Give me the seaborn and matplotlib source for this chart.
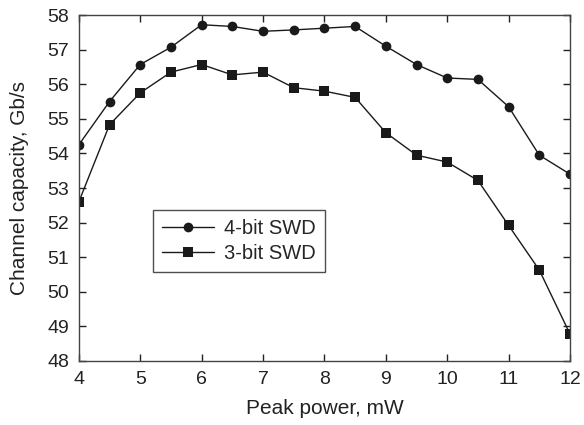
import numpy as np
import pandas as pd
import seaborn as sns
import matplotlib.pyplot as plt

# Données
peak_power = [4, 4.5, 5, 5.5, 6, 6.5, 7, 7.5, 8, 8.5, 9, 9.5, 10, 10.5, 11, 11.5, 12]
cap_4bit = [54.25, 55.5, 56.57, 57.07, 57.72, 57.67, 57.53, 57.57, 57.62, 57.67,
            57.1, 56.57, 56.18, 56.14, 55.35, 53.95, 53.4]
cap_3bit = [52.6, 54.83, 55.75, 56.35, 56.57, 56.27, 56.35, 55.9, 55.8, 55.62,
            54.6, 53.95, 53.75, 53.22, 51.92, 50.63, 48.78]
x_ticks = [4, 5, 6, 7, 8, 9, 10, 11, 12]
y_ticks = [48, 49, 50, 51, 52, 53, 54, 55, 56, 57, 58]

df = pd.DataFrame({
    "power": peak_power * 2,
    "capacity": cap_4bit + cap_3bit,
    "serie": ["4-bit SWD"] * len(peak_power) + ["3-bit SWD"] * len(peak_power),
})

sns.set_style("ticks")
plt.rcParams['font.family'] = ['Liberation Sans', 'DejaVu Sans']

fig = plt.figure(figsize=(5.84, 4.25), dpi=100)
ax = fig.add_axes([0.135, 0.1506, 0.841, 0.814])

sns.lineplot(data=df, x="power", y="capacity", hue="serie", style="serie",
             markers={"4-bit SWD": "o", "3-bit SWD": "s"}, dashes=False,
             palette={"4-bit SWD": "#1a1a1a", "3-bit SWD": "#1a1a1a"},
             markersize=7, linewidth=1, markeredgewidth=0, ax=ax)

ax.set_xlim(4, 12)
ax.set_ylim(48, 58)
ax.set_xticks(x_ticks)
ax.set_yticks(y_ticks)
ax.tick_params(direction="in", length=5, width=1, labelsize=14, top=True, right=True,
               colors="#222222", pad=7)
for s in ax.spines.values():
    s.set_visible(True)
    s.set_linewidth(1)
    s.set_color("#444444")
ax.set_xlabel("Peak power, mW", fontsize=15, color="#222222", labelpad=8)
ax.set_ylabel("Channel capacity, Gb/s", fontsize=15, color="#222222", labelpad=13)

leg = ax.legend(loc="upper left", bbox_to_anchor=(0.151, 0.436), fontsize=14.5,
                frameon=True, fancybox=False, edgecolor="#222222",
                handlelength=2.6, handletextpad=0.5, borderpad=0.45, labelspacing=0.3,
                borderaxespad=0)
leg.get_frame().set_linewidth(1)

fig.savefig("out.png", dpi=100)
